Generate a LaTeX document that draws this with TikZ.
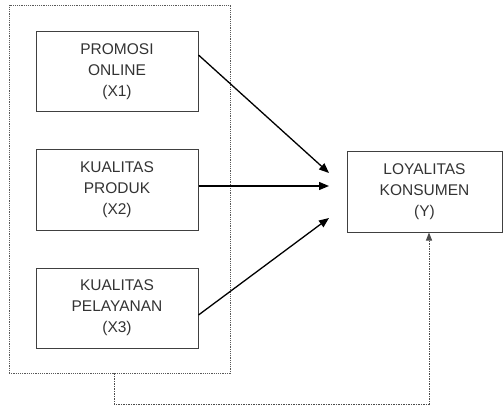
\documentclass[tikz,border=0pt]{standalone}
\usepackage{fontspec}
\setmainfont{Liberation Sans}
\usetikzlibrary{arrows.meta}
\begin{document}
\begin{tikzpicture}[x=1pt,y=-1pt,
  varbox/.style={draw=black!75,line width=1pt,minimum width=162pt,minimum height=80pt,
    align=center,inner sep=0pt,text=black!80,font=\fontsize{15.5}{21}\selectfont},
  dotbox/.style={draw=black!65,line width=0.9pt,dash pattern=on 1.2pt off 1pt},
  arr/.style={line width=1.3pt,-{Triangle[length=10pt,width=8pt]}},
  dotarr/.style={draw=black!70,line width=1pt,dash pattern=on 1.5pt off 1pt,-{Triangle[length=8pt,width=6pt]}}]
\useasboundingbox (0,0) rectangle (503,406);
\node[dotbox,minimum width=221pt,minimum height=368pt,inner sep=0pt] (grp) at (119.5,189) {};
\node[varbox] (x1) at (117,72) {PROMOSI\\ONLINE\\(X1)};
\node[varbox] (x2) at (117,190) {KUALITAS\\PRODUK\\(X2)};
\node[varbox] (x3) at (117,308) {KUALITAS\\PELAYANAN\\(X3)};
\node[varbox,minimum width=155pt] (y) at (424.5,192) {LOYALITAS\\KONSUMEN\\(Y)};
\coordinate (t1) at (329,173);
\coordinate (t2) at (329,186);
\coordinate (t3) at (329,218);
\coordinate (b1) at (114,404);
\coordinate (b2) at (429,404);
\draw[arr] ([yshift=17pt]x1.east) -- (t1);
\draw[arr] (x2.east |- t2) -- (t2);
\draw[arr] ([yshift=-7pt]x3.east) -- (t3);
\draw[dotarr] (grp.south -| b1) -- (b1) -- (b2) -- (y.south -| b2);
\end{tikzpicture}
\end{document}
